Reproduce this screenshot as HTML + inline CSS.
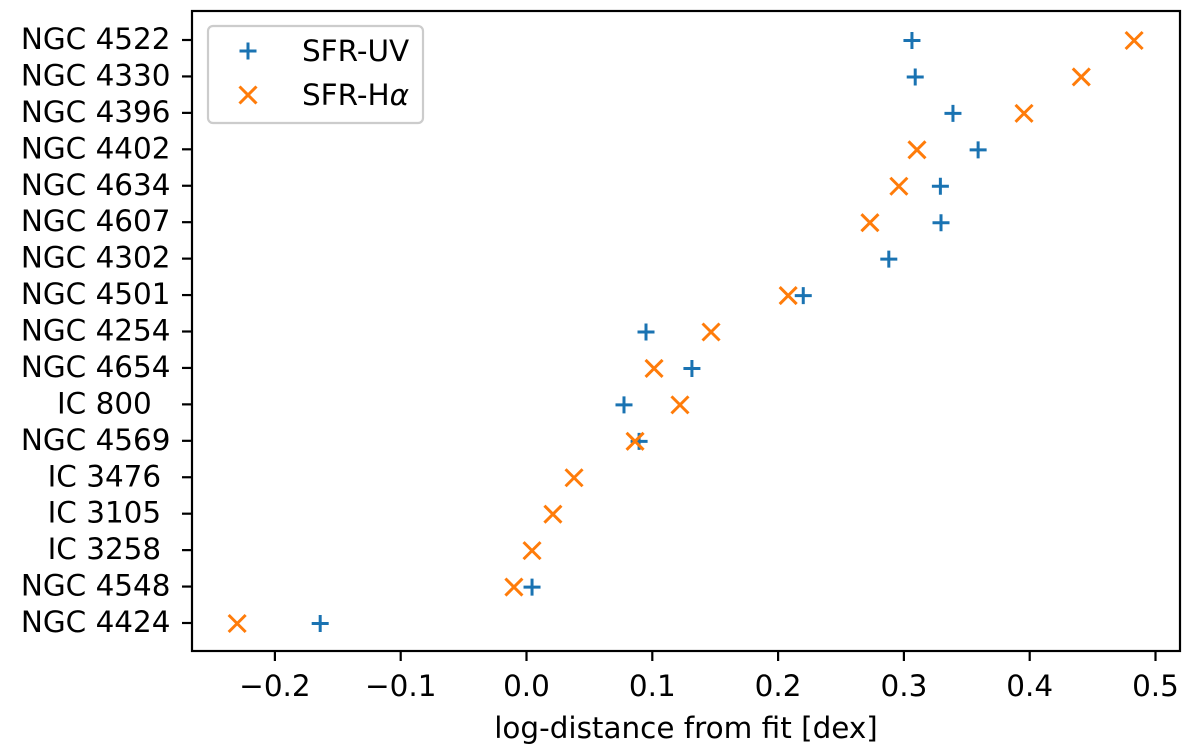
<!DOCTYPE html>
<html>
<head>
<meta charset="utf-8">
<title>log-distance from fit</title>
<style>
html,body{margin:0;padding:0;background:#fff;}
svg{display:block;}
text{font-family:"DejaVu Sans","Liberation Sans",sans-serif;font-size:29.45px;fill:#000;}
</style>
</head>
<body>
<svg id="chart" xmlns="http://www.w3.org/2000/svg" width="1200" height="747" viewBox="0 0 1200 747">
  <rect x="0" y="0" width="1200" height="747" fill="#fff"/>
  <g id="ticks"></g>
  <g id="marks"></g>
  <rect x="192" y="11" width="988" height="640" fill="none" stroke="#000" stroke-width="2.2"/>
  <text x="686" y="738" text-anchor="middle">log-distance from fit [dex]</text>
  <g>
    <rect x="208" y="26" width="215" height="97" rx="5" ry="5" fill="#fff" fill-opacity="0.8" stroke="#ccc" stroke-width="2.2"/>
    <g id="legend-symbols"></g>
    <text x="302" y="61">SFR-UV</text>
    <text x="302" y="105">SFR-H<tspan font-style="italic">α</tspan></text>
  </g>
</svg>
<script>
const galaxies = ["NGC 4522","NGC 4330","NGC 4396","NGC 4402","NGC 4634","NGC 4607","NGC 4302","NGC 4501","NGC 4254","NGC 4654","IC 800\u00a0\u00a0","NGC 4569","IC 3476\u00a0","IC 3105\u00a0","IC 3258\u00a0","NGC 4548","NGC 4424"];
const sfrUV = [0.3064,0.309,0.339,0.359,0.329,0.3295,0.288,0.220,0.095,0.1315,0.0775,0.0895,null,null,null,0.0044,-0.164];
const sfrHalpha = [0.483,0.441,0.3955,0.3104,0.296,0.273,null,0.208,0.1467,0.1014,0.122,0.0863,0.0378,0.021,0.0044,-0.01,-0.23];
const xTicks = [-0.2,-0.1,0,0.1,0.2,0.3,0.4,0.5];

const NS = 'http://www.w3.org/2000/svg';
const xScale = v => 526.5 + v * 1258;
const yScale = i => 40.5 + i * (623.5 - 40.5) / (galaxies.length - 1);
const BLUE = '#1a73b2', ORANGE = '#ff7c0a';
const ticks = document.getElementById('ticks');
const marks = document.getElementById('marks');
const legendSymbols = document.getElementById('legend-symbols');

function make(tag, attrs, parent) {
  const el = document.createElementNS(NS, tag);
  for (const k in attrs) el.setAttribute(k, attrs[k]);
  parent.appendChild(el);
  return el;
}
function plusPath(x, y) {
  const r = 8.5;
  return `M${x - r} ${y}H${x + r}M${x} ${y - r}V${y + r}`;
}
function crossPath(x, y) {
  const r = 8.5;
  return `M${x - r} ${y - r}L${x + r} ${y + r}M${x - r} ${y + r}L${x + r} ${y - r}`;
}

xTicks.forEach(v => {
  const px = xScale(v);
  const t = make('line', {x1: px, x2: px, y1: 651, y2: 661, stroke: '#000', 'stroke-width': 2.2}, ticks);
  
  
  const label = make('text', {x: px, y: 696, 'text-anchor': 'middle'}, ticks);
  label.textContent = (v < 0 ? '\u2212' : '') + Math.abs(v).toFixed(1);
  
  
});

galaxies.forEach((name, i) => {
  const py = yScale(i);
  const t = make('line', {x1: 182, x2: 192, y1: py - 0.5, y2: py - 0.5, stroke: '#000', 'stroke-width': 2.2}, ticks);
  
  
  const label = make('text', {x: 170.5, y: py + 8.5, 'text-anchor': 'end'}, ticks);
  label.textContent = name;
  
  
});

sfrUV.forEach((v, i) => {
  if (v === null) return;
  const p = make('path', {d: plusPath(xScale(v), yScale(i)), fill: 'none', stroke: BLUE, 'stroke-width': 3}, marks);
  
  
});
sfrHalpha.forEach((v, i) => {
  if (v === null) return;
  const p = make('path', {d: crossPath(xScale(v), yScale(i)), fill: 'none', stroke: ORANGE, 'stroke-width': 3}, marks);
  
  
});

const legendUV = make('path', {d: plusPath(248, 51), fill: 'none', stroke: BLUE, 'stroke-width': 3}, legendSymbols);


const legendHa = make('path', {d: crossPath(248, 95), fill: 'none', stroke: ORANGE, 'stroke-width': 3}, legendSymbols);


</script>
</body>
</html>
